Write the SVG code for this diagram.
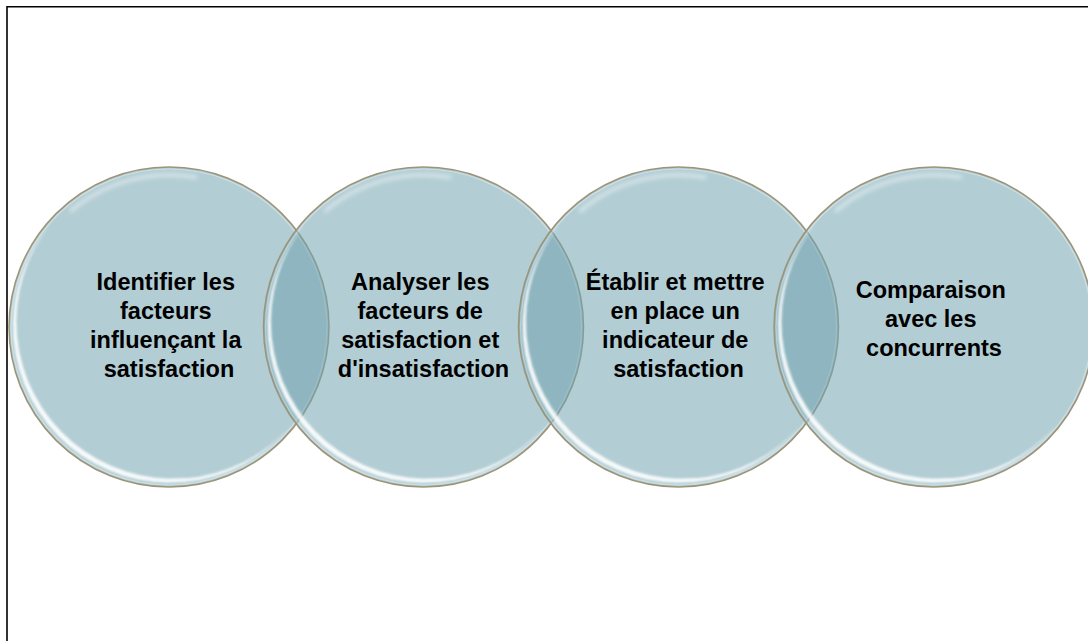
<svg xmlns="http://www.w3.org/2000/svg" xmlns:xlink="http://www.w3.org/1999/xlink" width="1088" height="641" viewBox="0 0 1088 641">
  <style>
    .frame { fill: none; stroke: #000; stroke-width: 1.6; }
    .fill { fill: rgb(114,163,176); fill-opacity: 0.545; }
    .rim { fill: none; stroke: #fff; stroke-width: 1.2; stroke-opacity: 0.35; }
    .gloss { fill: #fff; fill-opacity: 0.9; }
    .shine { fill: none; stroke: #fff; stroke-width: 4; stroke-opacity: 0.45; stroke-linecap: round; }
    .edge { fill: none; stroke: #9d9478; stroke-width: 1.5; }
    .label { font-family: "Liberation Sans", Arial, sans-serif; font-weight: bold; font-size: 23.5px; fill: #000; text-anchor: middle; }
  </style>
  <defs>
    <filter id="soft" x="-20%" y="-20%" width="140%" height="140%">
      <feGaussianBlur stdDeviation="1.3"/>
    </filter>
    <filter id="softer" x="-20%" y="-20%" width="140%" height="140%">
      <feGaussianBlur stdDeviation="2"/>
    </filter>
    <!-- glassy disc, radius 160, centred on the origin -->
    <g id="bubble">
      <circle class="fill" r="160"/>
      <circle class="rim" r="158"/>
      <!-- crescent reflection on the lower-left inside edge -->
      <path class="gloss" filter="url(#soft)" d="M114,108 A157,157 0 1 1 -108,-114 A157,157 0 0 0 114,108 Z" transform="rotate(-5)"/>
      <path class="shine" filter="url(#softer)" d="M-97.7,-116.4 A152,152 0 0 1 26.4,-149.7"/>
      <circle class="edge" r="160"/>
    </g>
  </defs>

  <rect width="1088" height="641" fill="#fff"/>
  <path class="frame" d="M7,641 V6.8 H1088"/>

  <g id="node-1" transform="translate(169,327)">
    <use xlink:href="#bubble"/>
    <text class="label">
      <tspan x="0" y="-37">Identifier les</tspan>
      <tspan x="0" y="-8">facteurs</tspan>
      <tspan x="0" y="21">influençant la</tspan>
      <tspan x="0" y="50">satisfaction</tspan>
    </text>
  </g>

  <g id="node-2" transform="translate(423.5,327)">
    <use xlink:href="#bubble"/>
    <text class="label">
      <tspan x="0" y="-37">Analyser les</tspan>
      <tspan x="0" y="-8">facteurs de</tspan>
      <tspan x="0" y="21">satisfaction et</tspan>
      <tspan x="0" y="50">d'insatisfaction</tspan>
    </text>
  </g>

  <g id="node-3" transform="translate(678.5,327)">
    <use xlink:href="#bubble"/>
    <text class="label">
      <tspan x="0" y="-37">Établir et mettre</tspan>
      <tspan x="0" y="-8">en place un</tspan>
      <tspan x="0" y="21">indicateur de</tspan>
      <tspan x="0" y="50">satisfaction</tspan>
    </text>
  </g>

  <g id="node-4" transform="translate(934,327)">
    <use xlink:href="#bubble"/>
    <text class="label">
      <tspan x="0" y="-29">Comparaison</tspan>
      <tspan x="0" y="0">avec les</tspan>
      <tspan x="0" y="29">concurrents</tspan>
    </text>
  </g>

  <g id="connectors"/>
</svg>
